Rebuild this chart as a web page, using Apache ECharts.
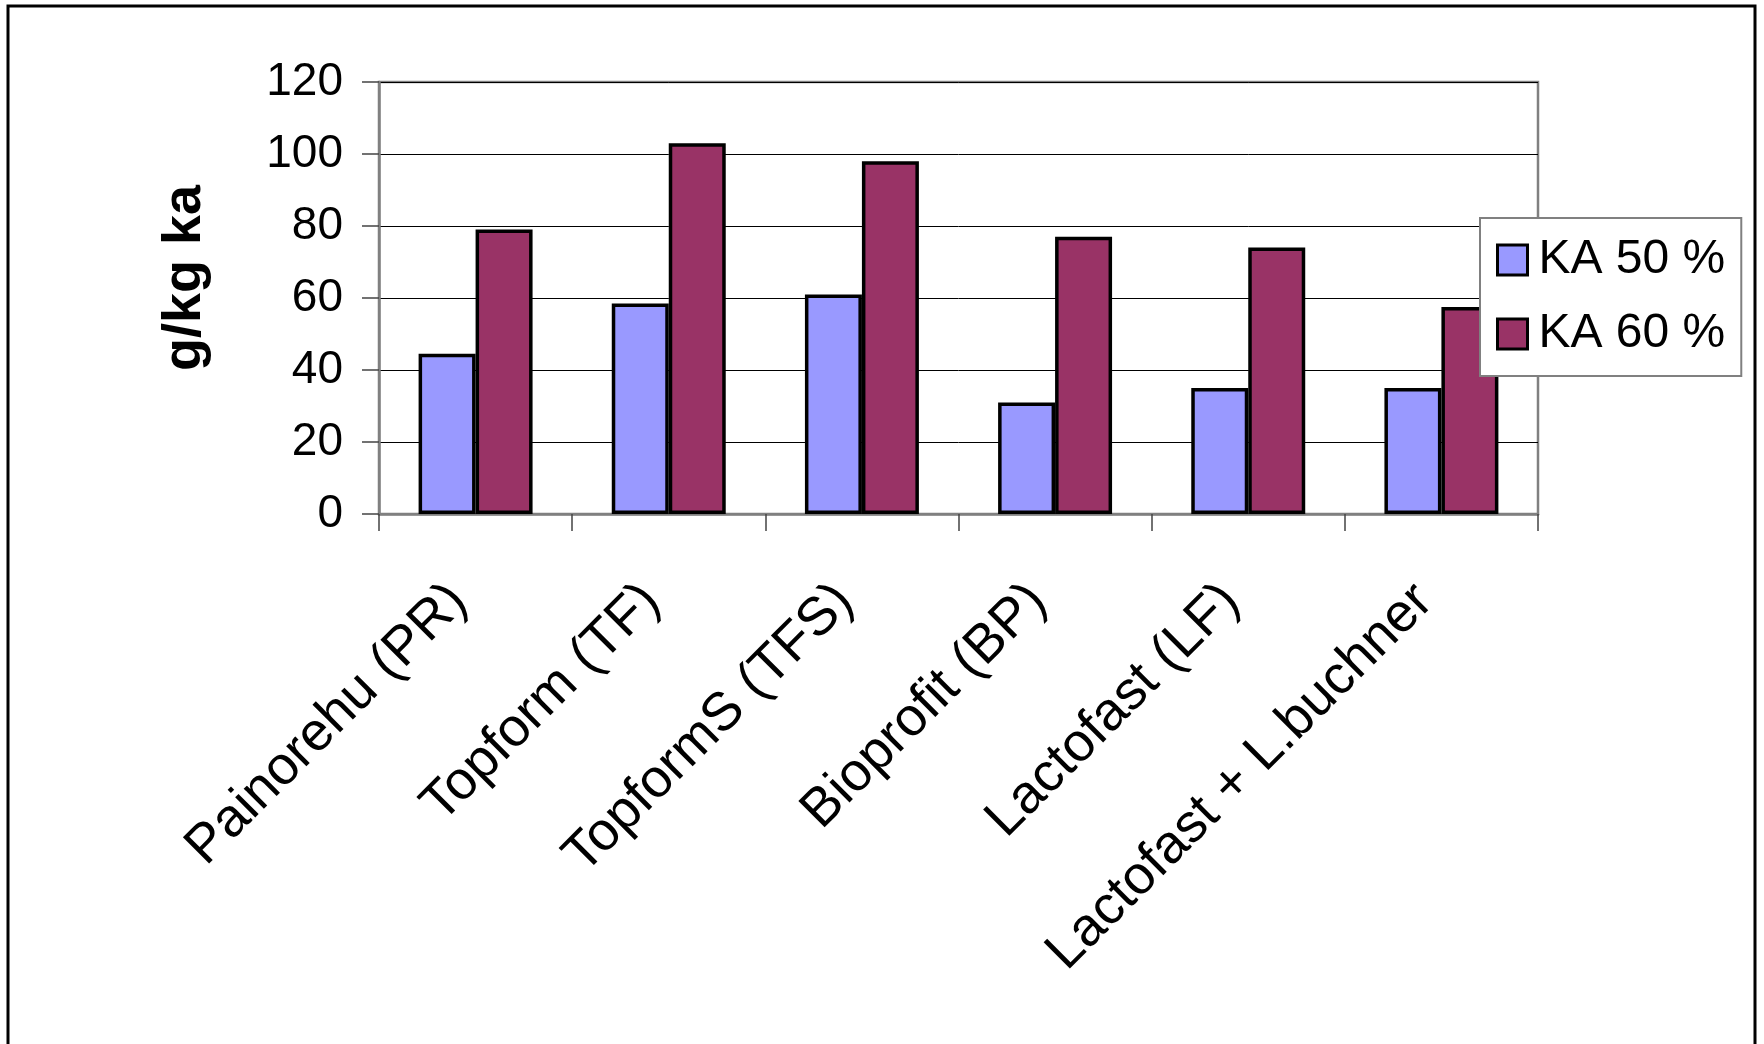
<!DOCTYPE html>
<html>
<head>
<meta charset="utf-8">
<script src="https://cdn.jsdelivr.net/npm/echarts@6/dist/echarts.min.js"></script>
<style>
html,body{margin:0;padding:0;background:#fff;}
#chart{width:1764px;height:1044px;}
</style>
</head>
<body>
<div id="chart"></div>
<script>
var categories = ['Painorehu (PR)', 'Topform (TF)', 'TopformS (TFS)', 'Bioprofit (BP)', 'Lactofast (LF)', 'Lactofast + L.buchner'];
var seriesNames = ['KA 50 %', 'KA 60 %'];
var ka50 = [44.5, 58.5, 61, 31, 35, 35];
var ka60 = [79, 103, 98, 77, 74, 57.5];
var yTicks = { min: 0, max: 120, interval: 20 };
var yTitle = 'g/kg ka';

var FONT = '"Liberation Sans", Arial, sans-serif';
var chart = echarts.init(document.getElementById('chart'), null, { renderer: 'canvas' });
chart.setOption({
  backgroundColor: '#fff',
  animation: false,
  textStyle: { fontFamily: FONT, color: '#000' },
  graphic: [{
    type: 'rect',
    silent: true,
    z: -10,
    shape: { x: 8, y: 6, width: 1747, height: 1200 },
    style: { fill: 'none', stroke: '#000', lineWidth: 3 }
  }],
  grid: {
    left: 379, right: 226, top: 82, bottom: 530,
    show: true, borderColor: '#808080', borderWidth: 2.5, backgroundColor: 'transparent'
  },
  legend: {
    orient: 'vertical',
    left: 1480, top: 218,
    backgroundColor: '#fff',
    borderColor: '#808080', borderWidth: 2,
    padding: [16, 16, 16, 16],
    itemWidth: 30, itemHeight: 30, itemGap: 22,
    icon: 'rect',
    itemStyle: { borderColor: '#000', borderWidth: 3 },
    textStyle: { fontFamily: FONT, fontSize: 48, color: '#000', lineHeight: 52, padding: [0, 0, 0, 6] },
    data: seriesNames
  },
  xAxis: {
    type: 'category',
    data: categories,
    axisLine: { show: true, lineStyle: { color: '#808080', width: 2.5 } },
    axisTick: { show: true, alignWithLabel: false, length: 17, lineStyle: { color: '#444', width: 1.5 } },
    axisLabel: { interval: 0, rotate: 45, margin: 62, fontSize: 54, color: '#000', fontFamily: FONT, padding: [0, 24, 0, 0] },
    splitLine: { show: false }
  },
  yAxis: {
    type: 'value',
    min: yTicks.min, max: yTicks.max, interval: yTicks.interval,
    name: yTitle,
    nameLocation: 'middle',
    nameRotate: 90,
    nameGap: 167,
    nameTextStyle: { fontFamily: FONT, fontSize: 54, fontWeight: 'bold', color: '#000', padding: [0, 0, 0, 40] },
    axisLine: { show: true, lineStyle: { color: '#808080', width: 2.5 } },
    axisTick: { show: true, inside: false, length: 17, lineStyle: { color: '#444', width: 1.5 } },
    axisLabel: { fontSize: 46, color: '#000', margin: 36, fontFamily: FONT },
    splitLine: { show: true, lineStyle: { color: '#000', width: 1 } }
  },
  series: [{
    name: seriesNames[0],
    type: 'bar',
    data: ka50,
    barWidth: '29.5%',
    barGap: '0%',
    itemStyle: { color: '#9999FF', borderColor: '#000', borderWidth: 3.5 }
  }, {
    name: seriesNames[1],
    type: 'bar',
    data: ka60,
    barWidth: '29.5%',
    barGap: '0%',
    itemStyle: { color: '#993366', borderColor: '#000', borderWidth: 3.5 }
  }]
});
</script>
</body>
</html>
